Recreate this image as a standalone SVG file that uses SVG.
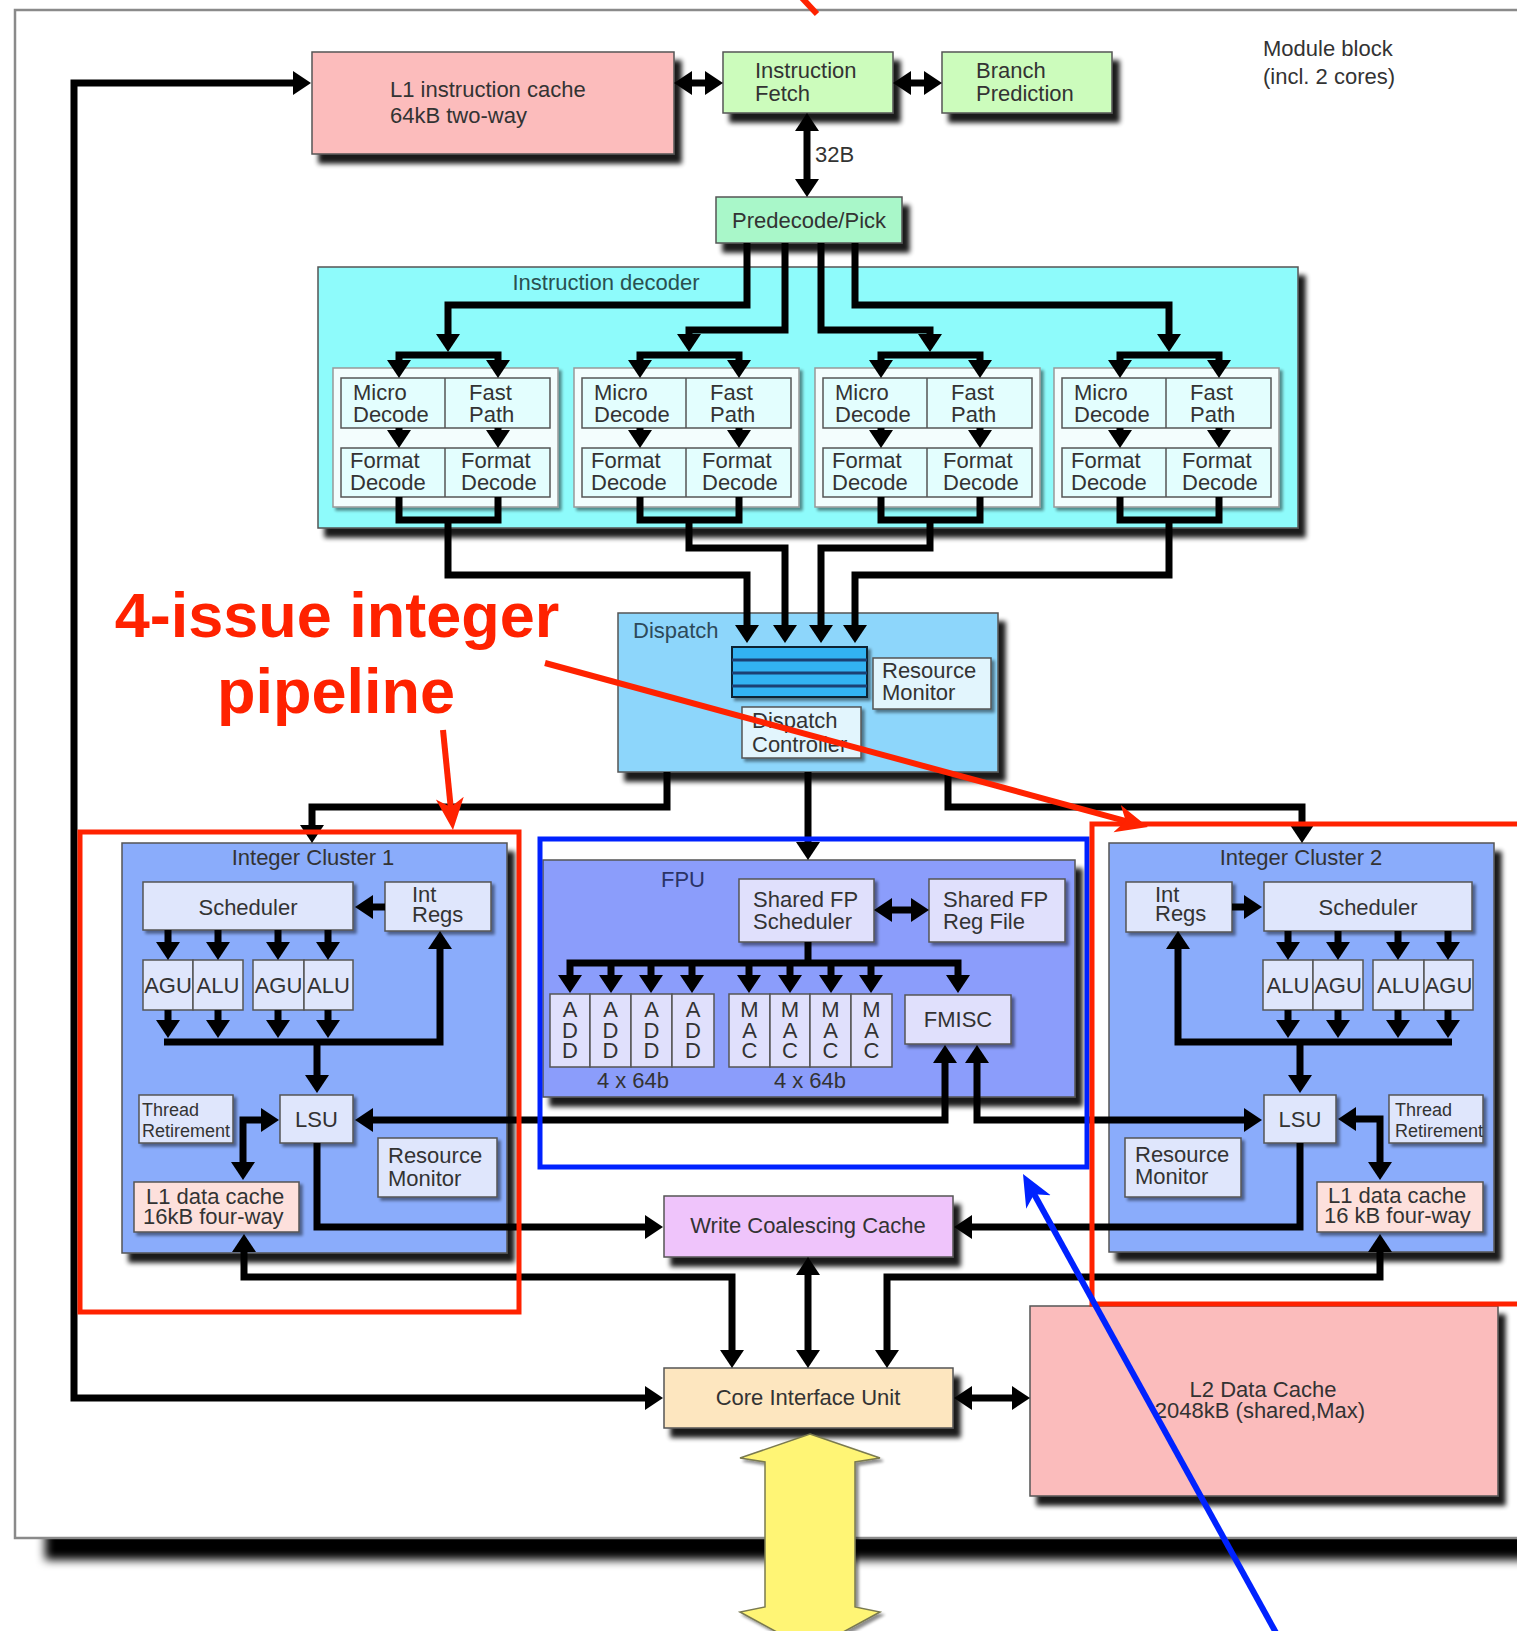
<svg xmlns="http://www.w3.org/2000/svg" width="1517" height="1631" viewBox="0 0 1517 1631">
<defs>
<style>
.t{font-family:"Liberation Sans",Arial,Helvetica,sans-serif;font-size:22px;fill:#333}
.m{text-anchor:middle}
.s{font-size:18px}
.bx{stroke:#555;stroke-width:1.5}
.in{stroke:#555;stroke-width:1.5;fill:#dfe6fc}
.fi{stroke:#555;stroke-width:1.5;fill:#e0e0fc}
.dc{fill:#e3fefe;stroke:#555;stroke-width:1.5}
.dv{stroke:#555;stroke-width:1.5}
.c{fill:none;stroke:#000;stroke-width:7;stroke-linejoin:miter}
.a{marker-end:url(#ah)}
.b{marker-start:url(#ah);marker-end:url(#ah)}
.r{font-family:"Liberation Sans",Arial,Helvetica,sans-serif;font-weight:bold;font-size:63px;fill:#ff2200;text-anchor:middle}
</style>
<marker id="ah" viewBox="0 0 18 24" refX="6" refY="12" markerWidth="18" markerHeight="24" markerUnits="userSpaceOnUse" orient="auto-start-reverse"><path d="M0,0 L18,12 L0,24 z" fill="#000"/></marker>
<marker id="rh" viewBox="0 0 32 32" refX="14" refY="16" markerWidth="32" markerHeight="32" markerUnits="userSpaceOnUse" orient="auto"><path d="M0,2 L32,16 L0,30 L9,16 z" fill="#ff2200"/></marker>
<marker id="bh" viewBox="0 0 32 32" refX="14" refY="16" markerWidth="32" markerHeight="32" markerUnits="userSpaceOnUse" orient="auto"><path d="M0,2 L32,16 L0,30 L9,16 z" fill="#0022ff"/></marker>
<filter id="ds" x="-10%" y="-20%" width="130%" height="160%">
<feGaussianBlur in="SourceAlpha" stdDeviation="2.5"/>
<feOffset dx="7" dy="9"/>
<feComponentTransfer><feFuncA type="linear" slope="0.9"/></feComponentTransfer>
<feMerge><feMergeNode/><feMergeNode in="SourceGraphic"/></feMerge>
</filter>
<filter id="ds2" x="-10%" y="-20%" width="130%" height="160%">
<feGaussianBlur in="SourceAlpha" stdDeviation="1.5"/>
<feOffset dx="3" dy="3"/>
<feComponentTransfer><feFuncA type="linear" slope="0.45"/></feComponentTransfer>
<feMerge><feMergeNode/><feMergeNode in="SourceGraphic"/></feMerge>
</filter>
<filter id="bl" x="-5%" y="-50%" width="110%" height="200%"><feGaussianBlur stdDeviation="5"/></filter>
</defs>

<rect x="0" y="0" width="1517" height="1631" fill="#fff"/>
<rect x="45" y="1480" width="1520" height="80" fill="#000" filter="url(#bl)"/>
<rect id="frame" x="15" y="10" width="1600" height="1528" fill="#fff" stroke="#8a8a8a" stroke-width="2.5"/>

<g id="module-label">
<text class="t" x="1263" y="56" fill="#444">Module block</text>
<text class="t" x="1263" y="84">(incl. 2 cores)</text>
</g>

<g id="l1i">
<rect x="312" y="52" width="362" height="102" fill="#fcbcbc" class="bx" filter="url(#ds)"/>
<text class="t" x="390" y="97">L1 instruction cache</text>
<text class="t" x="390" y="123">64kB two-way</text>
</g>
<g id="ifetch">
<rect x="723" y="52" width="170" height="61" fill="#ccfcbc" class="bx" filter="url(#ds)"/>
<text class="t" x="755" y="78">Instruction</text>
<text class="t" x="755" y="101">Fetch</text>
</g>
<g id="bpred">
<rect x="942" y="52" width="170" height="61" fill="#ccfcbc" class="bx" filter="url(#ds)"/>
<text class="t" x="976" y="78">Branch</text>
<text class="t" x="976" y="101">Prediction</text>
</g>
<text id="lbl32b" class="t" x="815" y="162">32B</text>
<g id="predecode">
<rect x="716" y="197" width="186" height="46" fill="#a9f7c9" class="bx" filter="url(#ds)"/>
<text class="t m" x="809" y="228">Predecode/Pick</text>
</g>

<g id="idecoder">
<rect x="318" y="267" width="980" height="261" fill="#8efbfb" class="bx" filter="url(#ds)"/>
<text class="t m" x="606" y="290" style="fill:#2a5050">Instruction decoder</text>
</g>

<g id="dec1" transform="translate(333,0)">
<rect x="0" y="368" width="225" height="139" fill="#f3fdfd" stroke="#999" stroke-width="1.5" filter="url(#ds2)"/>
<rect x="8" y="378" width="209" height="50" class="dc"/><line x1="112" y1="378" x2="112" y2="428" class="dv"/>
<rect x="8" y="448" width="209" height="49" class="dc"/><line x1="112" y1="448" x2="112" y2="497" class="dv"/>
<text class="t" x="20" y="400">Micro</text><text class="t" x="20" y="422">Decode</text>
<text class="t" x="136" y="400">Fast</text><text class="t" x="136" y="422">Path</text>
<text class="t" x="17" y="468">Format</text><text class="t" x="17" y="490">Decode</text>
<text class="t" x="128" y="468">Format</text><text class="t" x="128" y="490">Decode</text>
</g>
<g id="dec2" transform="translate(574,0)">
<rect x="0" y="368" width="225" height="139" fill="#f3fdfd" stroke="#999" stroke-width="1.5" filter="url(#ds2)"/>
<rect x="8" y="378" width="209" height="50" class="dc"/><line x1="112" y1="378" x2="112" y2="428" class="dv"/>
<rect x="8" y="448" width="209" height="49" class="dc"/><line x1="112" y1="448" x2="112" y2="497" class="dv"/>
<text class="t" x="20" y="400">Micro</text><text class="t" x="20" y="422">Decode</text>
<text class="t" x="136" y="400">Fast</text><text class="t" x="136" y="422">Path</text>
<text class="t" x="17" y="468">Format</text><text class="t" x="17" y="490">Decode</text>
<text class="t" x="128" y="468">Format</text><text class="t" x="128" y="490">Decode</text>
</g>
<g id="dec3" transform="translate(815,0)">
<rect x="0" y="368" width="225" height="139" fill="#f3fdfd" stroke="#999" stroke-width="1.5" filter="url(#ds2)"/>
<rect x="8" y="378" width="209" height="50" class="dc"/><line x1="112" y1="378" x2="112" y2="428" class="dv"/>
<rect x="8" y="448" width="209" height="49" class="dc"/><line x1="112" y1="448" x2="112" y2="497" class="dv"/>
<text class="t" x="20" y="400">Micro</text><text class="t" x="20" y="422">Decode</text>
<text class="t" x="136" y="400">Fast</text><text class="t" x="136" y="422">Path</text>
<text class="t" x="17" y="468">Format</text><text class="t" x="17" y="490">Decode</text>
<text class="t" x="128" y="468">Format</text><text class="t" x="128" y="490">Decode</text>
</g>
<g id="dec4" transform="translate(1054,0)">
<rect x="0" y="368" width="225" height="139" fill="#f3fdfd" stroke="#999" stroke-width="1.5" filter="url(#ds2)"/>
<rect x="8" y="378" width="209" height="50" class="dc"/><line x1="112" y1="378" x2="112" y2="428" class="dv"/>
<rect x="8" y="448" width="209" height="49" class="dc"/><line x1="112" y1="448" x2="112" y2="497" class="dv"/>
<text class="t" x="20" y="400">Micro</text><text class="t" x="20" y="422">Decode</text>
<text class="t" x="136" y="400">Fast</text><text class="t" x="136" y="422">Path</text>
<text class="t" x="17" y="468">Format</text><text class="t" x="17" y="490">Decode</text>
<text class="t" x="128" y="468">Format</text><text class="t" x="128" y="490">Decode</text>
</g>

<g id="dispatch">
<rect x="618" y="613" width="380" height="159" fill="#8dd6fb" class="bx" filter="url(#ds)"/>
<text class="t" x="633" y="638" style="fill:#2e4a5a">Dispatch</text>
<rect x="732" y="647" width="135" height="50" fill="#33b2f2" stroke="#123" stroke-width="2" filter="url(#ds2)"/>
<line x1="732" y1="660" x2="867" y2="660" stroke="#1b3f73" stroke-width="3"/>
<line x1="732" y1="673" x2="867" y2="673" stroke="#1b3f73" stroke-width="3"/>
<line x1="732" y1="686" x2="867" y2="686" stroke="#1b3f73" stroke-width="3"/>
<rect x="873" y="658" width="118" height="51" fill="#e2f5fd" class="bx" filter="url(#ds2)"/>
<text class="t" x="882" y="678">Resource</text><text class="t" x="882" y="700">Monitor</text>
<rect x="742" y="707" width="119" height="51" fill="#e2f5fd" class="bx" filter="url(#ds2)"/>
<text class="t" x="752" y="728">Dispatch</text><text class="t" x="752" y="752">Controller</text>
</g>

<g id="cluster1">
<rect x="122" y="843" width="385" height="410" fill="#8aacfb" class="bx" filter="url(#ds)"/>
<text class="t m" x="313" y="865">Integer Cluster 1</text>
<rect x="143" y="882" width="210" height="48" class="in" filter="url(#ds2)"/>
<text class="t m" x="248" y="915">Scheduler</text>
<rect x="385" y="882" width="106" height="49" class="in" filter="url(#ds2)"/>
<text class="t" x="412" y="902">Int</text><text class="t" x="412" y="922">Regs</text>
<rect x="143" y="960" width="50" height="50" class="in"/>
<rect x="193" y="960" width="50" height="50" class="in"/>
<rect x="253" y="960" width="51" height="50" class="in"/>
<rect x="304" y="960" width="49" height="50" class="in"/>
<text class="t m" x="168" y="993">AGU</text><text class="t m" x="218" y="993">ALU</text>
<text class="t m" x="278.5" y="993">AGU</text><text class="t m" x="328.5" y="993">ALU</text>
<rect x="139" y="1095" width="94" height="48" class="in" filter="url(#ds2)"/>
<text class="t s" x="142" y="1116">Thread</text><text class="t s" x="142" y="1137">Retirement</text>
<rect x="280" y="1095" width="73" height="48" class="in" filter="url(#ds2)"/>
<text class="t m" x="316.5" y="1127">LSU</text>
<rect x="378" y="1138" width="119" height="59" class="in" filter="url(#ds2)"/>
<text class="t" x="388" y="1163">Resource</text><text class="t" x="388" y="1186">Monitor</text>
<rect x="134" y="1182" width="165" height="50" fill="#fde0dc" class="bx" filter="url(#ds2)"/>
<text class="t" x="146" y="1204">L1 data cache</text><text class="t" x="143" y="1224">16kB four-way</text>
</g>

<g id="fpu">
<rect x="543" y="860" width="532" height="237" fill="#8b9dfb" class="bx" filter="url(#ds)"/>
<text class="t" x="661" y="887" style="fill:#2a3366">FPU</text>
<rect x="739" y="879" width="135" height="63" class="fi" filter="url(#ds2)"/>
<text class="t" x="753" y="907">Shared FP</text><text class="t" x="753" y="929">Scheduler</text>
<rect x="929" y="879" width="136" height="63" class="fi" filter="url(#ds2)"/>
<text class="t" x="943" y="907">Shared FP</text><text class="t" x="943" y="929">Reg File</text>
<rect x="550" y="994" width="40" height="73" class="fi"/>
<rect x="590" y="994" width="41" height="73" class="fi"/>
<rect x="631" y="994" width="41" height="73" class="fi"/>
<rect x="672" y="994" width="42" height="73" class="fi"/>
<rect x="729" y="994" width="41" height="73" class="fi"/>
<rect x="770" y="994" width="40" height="73" class="fi"/>
<rect x="810" y="994" width="41" height="73" class="fi"/>
<rect x="851" y="994" width="41" height="73" class="fi"/>
<text class="t m" x="570" y="1017"><tspan x="570">A</tspan><tspan x="570" dy="20.5">D</tspan><tspan x="570" dy="20.5">D</tspan></text>
<text class="t m" x="610.5" y="1017"><tspan x="610.5">A</tspan><tspan x="610.5" dy="20.5">D</tspan><tspan x="610.5" dy="20.5">D</tspan></text>
<text class="t m" x="651.5" y="1017"><tspan x="651.5">A</tspan><tspan x="651.5" dy="20.5">D</tspan><tspan x="651.5" dy="20.5">D</tspan></text>
<text class="t m" x="693" y="1017"><tspan x="693">A</tspan><tspan x="693" dy="20.5">D</tspan><tspan x="693" dy="20.5">D</tspan></text>
<text class="t m" x="749.5" y="1017"><tspan x="749.5">M</tspan><tspan x="749.5" dy="20.5">A</tspan><tspan x="749.5" dy="20.5">C</tspan></text>
<text class="t m" x="790" y="1017"><tspan x="790">M</tspan><tspan x="790" dy="20.5">A</tspan><tspan x="790" dy="20.5">C</tspan></text>
<text class="t m" x="830.5" y="1017"><tspan x="830.5">M</tspan><tspan x="830.5" dy="20.5">A</tspan><tspan x="830.5" dy="20.5">C</tspan></text>
<text class="t m" x="871.5" y="1017"><tspan x="871.5">M</tspan><tspan x="871.5" dy="20.5">A</tspan><tspan x="871.5" dy="20.5">C</tspan></text>
<rect x="905" y="995" width="106" height="49" class="fi" filter="url(#ds2)"/>
<text class="t m" x="958" y="1027">FMISC</text>
<text class="t m" x="633" y="1088">4 x 64b</text>
<text class="t m" x="810" y="1088">4 x 64b</text>
</g>

<g id="cluster2">
<rect x="1109" y="843" width="385" height="409" fill="#8aacfb" class="bx" filter="url(#ds)"/>
<text class="t m" x="1301" y="865">Integer Cluster 2</text>
<rect x="1126" y="882" width="106" height="50" class="in" filter="url(#ds2)"/>
<text class="t" x="1155" y="902">Int</text><text class="t" x="1155" y="921">Regs</text>
<rect x="1264" y="882" width="208" height="49" class="in" filter="url(#ds2)"/>
<text class="t m" x="1368" y="915">Scheduler</text>
<rect x="1263" y="960" width="50" height="50" class="in"/>
<rect x="1313" y="960" width="50" height="50" class="in"/>
<rect x="1373" y="960" width="51" height="50" class="in"/>
<rect x="1424" y="960" width="49" height="50" class="in"/>
<text class="t m" x="1288" y="993">ALU</text><text class="t m" x="1338" y="993">AGU</text>
<text class="t m" x="1398.5" y="993">ALU</text><text class="t m" x="1448.5" y="993">AGU</text>
<rect x="1264" y="1095" width="72" height="48" class="in" filter="url(#ds2)"/>
<text class="t m" x="1300" y="1127">LSU</text>
<rect x="1389" y="1095" width="94" height="48" class="in" filter="url(#ds2)"/>
<text class="t s" x="1395" y="1116">Thread</text><text class="t s" x="1395" y="1137">Retirement</text>
<rect x="1125" y="1138" width="116" height="59" class="in" filter="url(#ds2)"/>
<text class="t" x="1135" y="1162">Resource</text><text class="t" x="1135" y="1184">Monitor</text>
<rect x="1317" y="1182" width="166" height="50" fill="#fde0dc" class="bx" filter="url(#ds2)"/>
<text class="t" x="1328" y="1203">L1 data cache</text><text class="t" x="1324" y="1223">16 kB four-way</text>
</g>

<g id="wcc">
<rect x="664" y="1196" width="289" height="61" fill="#efc4fb" class="bx" filter="url(#ds)"/>
<text class="t m" x="808" y="1233">Write Coalescing Cache</text>
</g>
<g id="ciu">
<rect x="664" y="1368" width="289" height="60" fill="#fde6bf" class="bx" filter="url(#ds)"/>
<text class="t m" x="808" y="1405">Core Interface Unit</text>
</g>
<g id="l2">
<rect x="1030" y="1306" width="468" height="190" fill="#fbbcbc" class="bx" filter="url(#ds)"/>
<text class="t m" x="1263" y="1397">L2 Data Cache</text>
<text class="t m" x="1260" y="1418">2048kB (shared,Max)</text>
</g>
<g id="sysbus">
<polygon points="810,1434 880,1458 855,1462 855,1607 880,1612 810,1650 740,1612 765,1607 765,1462 740,1458" fill="#fff574" stroke="#7a7a50" stroke-width="1.5" filter="url(#ds2)"/>
</g>

<g id="connectors" class="c">
<path class="b" d="M299,83 H74 V1398 H651"/>
<path class="b" d="M686,83 H711"/>
<path class="b" d="M905,83 H930"/>
<path class="b" d="M807,125 V185"/>
<path class="a" d="M747,243 V305 H448 V340"/>
<path class="a" d="M785,243 V330 H689 V340"/>
<path class="a" d="M821,243 V330 H930 V340"/>
<path class="a" d="M855,243 V305 H1169 V340"/>
<path class="b" d="M399,366 V355 H498 V366"/>
<path class="b" d="M640,366 V355 H739 V366"/>
<path class="b" d="M881,366 V355 H980 V366"/>
<path class="b" d="M1120,366 V355 H1219 V366"/>
<path class="a" d="M399,428 V436"/><path class="a" d="M498,428 V436"/>
<path class="a" d="M640,428 V436"/><path class="a" d="M739,428 V436"/>
<path class="a" d="M881,428 V436"/><path class="a" d="M980,428 V436"/>
<path class="a" d="M1120,428 V436"/><path class="a" d="M1219,428 V436"/>
<path d="M399,497 V520 H498 V497"/>
<path d="M640,497 V520 H739 V497"/>
<path d="M881,497 V520 H980 V497"/>
<path d="M1120,497 V520 H1219 V497"/>
<path class="a" d="M448,520 V575 H747 V631"/>
<path class="a" d="M689,520 V548 H785 V631"/>
<path class="a" d="M930,520 V548 H821 V631"/>
<path class="a" d="M1169,520 V575 H855 V631"/>
<path class="a" d="M667,772 V807 H312 V831"/>
<path class="a" d="M808,772 V848"/>
<path class="a" d="M948,772 V807 H1302 V831"/>
<path class="a" d="M385,907 H367"/>
<path class="a" d="M168,930 V948"/><path class="a" d="M218,930 V948"/>
<path class="a" d="M278,930 V948"/><path class="a" d="M328,930 V948"/>
<path class="a" d="M168,1010 V1026"/><path class="a" d="M218,1010 V1026"/>
<path class="a" d="M278,1010 V1026"/><path class="a" d="M328,1010 V1026"/>
<path class="a" d="M164,1042 H440 V943"/>
<path class="a" d="M317,1042 V1081"/>
<path class="b" d="M267,1120 H243 V1168"/>
<path class="a" d="M317,1143 V1227 H651"/>
<path class="b" d="M732,1356 V1277 H244 V1246"/>
<path class="b" d="M886,910 H917"/>
<path d="M808,942 V963"/>
<path class="b" d="M570,981 V963 H958 V981"/>
<path class="a" d="M611,963 V981"/><path class="a" d="M651,963 V981"/>
<path class="a" d="M692,963 V981"/><path class="a" d="M749,963 V981"/>
<path class="a" d="M790,963 V981"/><path class="a" d="M831,963 V981"/>
<path class="a" d="M871,963 V981"/>
<path class="b" d="M945,1057 V1120 H367"/>
<path class="b" d="M977,1057 V1120 H1250"/>
<path class="a" d="M1232,907 H1250"/>
<path class="a" d="M1288,931 V948"/><path class="a" d="M1338,931 V948"/>
<path class="a" d="M1398,931 V948"/><path class="a" d="M1448,931 V948"/>
<path class="a" d="M1288,1010 V1026"/><path class="a" d="M1338,1010 V1026"/>
<path class="a" d="M1398,1010 V1026"/><path class="a" d="M1448,1010 V1026"/>
<path class="a" d="M1452,1042 H1178 V943"/>
<path class="a" d="M1300,1042 V1081"/>
<path class="b" d="M1350,1119 H1380 V1168"/>
<path class="a" d="M1300,1143 V1227 H966"/>
<path class="b" d="M887,1356 V1277 H1380 V1246"/>
<path class="b" d="M808,1269 V1356"/>
<path class="b" d="M966,1398 H1018"/>
</g>

<g id="annotations">
<rect x="80" y="832" width="439" height="480" fill="none" stroke="#ff2200" stroke-width="5"/>
<rect x="540" y="839" width="547" height="328" fill="none" stroke="#0022ff" stroke-width="5"/>
<rect x="1092" y="824" width="440" height="480" fill="none" stroke="#ff2200" stroke-width="5"/>
<line x1="802" y1="-2" x2="817" y2="14" stroke="#ff2200" stroke-width="6"/>
<text class="r" x="337" y="637">4-issue integer</text>
<text class="r" x="336" y="713">pipeline</text>
<line x1="443" y1="730" x2="451.2" y2="812.1" stroke="#ff2200" stroke-width="6" marker-end="url(#rh)"/>
<line x1="545" y1="663" x2="1130.6" y2="822.3" stroke="#ff2200" stroke-width="6" marker-end="url(#rh)"/>
<line x1="1280" y1="1640" x2="1031.7" y2="1189.8" stroke="#0022ff" stroke-width="6" marker-end="url(#bh)"/>
</g>
</svg>
